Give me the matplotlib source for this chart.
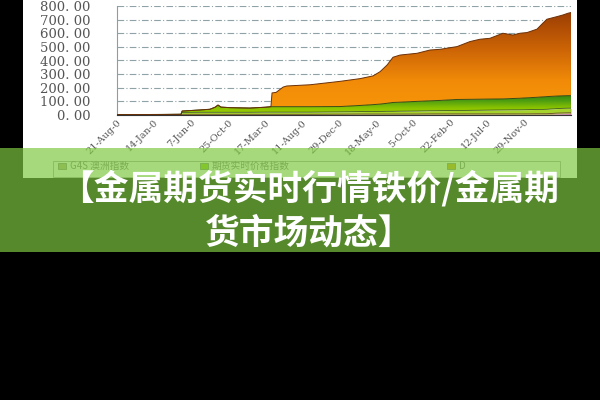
import numpy as np
import matplotlib
matplotlib.use('Agg')
import matplotlib.pyplot as plt
import matplotlib.transforms as mtransforms
from matplotlib.patches import Rectangle
from matplotlib.colors import LinearSegmentedColormap

plt.rcParams['font.family'] = ['Noto Sans CJK SC', 'DejaVu Sans']

# trading days from first tick, values of each stacked series
days = [0, 116, 173, 176, 224, 251, 265, 273, 281, 305,
        359, 400, 416, 419, 430, 449, 459, 522, 603, 657,
        692, 711, 730, 746, 765, 811, 846, 873, 919, 954,
        981, 1008, 1043, 1070, 1089, 1108, 1135, 1151, 1162, 1189,
        1205, 1219, 1227]
pink = [0, 1, 2, 2, 2, 2, 2, 2, 2, 2,
        2, 2, 2, 2, 2, 2, 2, 2, 2, 3,
        3, 3, 3, 3, 3, 3, 3, 3, 3, 3,
        3, 3, 3, 3, 3, 3, 3, 3, 3, 8,
        9, 10, 10]
khaki = [3] * 18 + [4] * 8 + [5] * 10 + [6] * 7
lgreen = [0, 0, 0, 14, 15, 15, 15, 15, 15, 15,
          15, 16, 16, 16, 16, 16, 16, 16, 17, 18,
          19, 19, 20, 20, 21, 22, 23, 24, 25, 26,
          27, 28, 29, 30, 30, 31, 32, 32, 33, 33,
          34, 34, 34]
green = [0, 0, 0, 10, 17, 22, 37, 53, 38, 34,
         31, 36, 40, 40, 40, 40, 40, 40, 39, 45,
         50, 54, 59, 65, 66, 71, 73, 75, 81, 81,
         81, 81, 81, 83, 85, 87, 89, 92, 93, 92,
         92, 92, 92]
orange = [0] * 13 + [101, 105, 144, 152, 161, 185, 197,
          211, 238, 281, 332, 346, 353, 373, 375, 388, 424,
          440, 446, 482, 466, 477, 479, 500, 541, 568, 583,
          593, 605, 610]

tick_days = [0, 100, 200, 300, 400, 500, 600, 700, 800, 900, 1000, 1100]
tick_labels = ['21-Aug-0', '14-Jan-0', '7-Jun-0', '25-Oct-0', '17-Mar-0', '11-Aug-0',
               '29-Dec-0', '18-May-0', '5-Oct-0', '22-Feb-0', '12-Jul-0', '29-Nov-0']
y_ticks = [0, 100, 200, 300, 400, 500, 600, 700, 800]
legend_labels = ['G4S 澳洲指数', '期货实时价格指数', 'D']
legend_colors = ['#b5a878', '#8fc800', '#d6a000']
title_lines = ['【金属期货实时行情铁价/金属期', '货市场动态】']

x = np.array(days)
s1 = np.array(pink)
s2 = s1 + np.array(khaki)
s3 = s2 + np.array(lgreen)
s4 = s3 + np.array(green)
s5 = s4 + np.array(orange)

fig = plt.figure(figsize=(6, 4), dpi=100, facecolor='black')

# white picture of the chart
fig.add_artist(Rectangle((23/600, 0.555), 554/600, 0.445, transform=fig.transFigure,
                         facecolor='white', edgecolor='none', zorder=0))

ax = fig.add_axes([117/600, 1 - 115/400, 454/600, 109/400])
ax.set_facecolor('white')

ax.fill_between(x, 0, s1, color='#d070c0', lw=0, zorder=2)
ax.fill_between(x, s1, s2, color='#b59a5a', lw=0, zorder=2)
ax.plot(x, s2, color='#6b4a2a', lw=0.6, zorder=3)
ax.fill_between(x, s2, s3, color='#a6d22c', lw=0, zorder=2)

grad = np.linspace(0, 1, 400).reshape(-1, 1)

# green layer with vertical gradient
g_poly = ax.fill_between(x, s3, s4, facecolor='none', lw=0)
g_cmap = LinearSegmentedColormap.from_list('g', [(0, '#9fd000'), (0.06, '#8cc400'),
                                                 (0.13, '#4c9c12'), (0.2, '#2e7a0c'), (1, '#2e7a0c')])
im = ax.imshow(grad, extent=[0, 1227, 0, 800], origin='lower', aspect='auto', cmap=g_cmap, zorder=2)
im.set_clip_path(g_poly.get_paths()[0], transform=ax.transData)
ax.plot(x, s3, color='#3c5a10', lw=0.6, zorder=3)

# orange layer with vertical gradient
o_poly = ax.fill_between(x, s4, s5, facecolor='none', lw=0)
o_cmap = LinearSegmentedColormap.from_list('o', [(0, '#f8960a'), (0.3, '#f28c08'),
                                                 (0.6, '#cc6406'), (0.95, '#9a3c04'), (1, '#9a3c04')])
im2 = ax.imshow(grad, extent=[0, 1227, 0, 800], origin='lower', aspect='auto', cmap=o_cmap, zorder=2)
im2.set_clip_path(o_poly.get_paths()[0], transform=ax.transData)
ax.plot(x, s4, color='#3a4a10', lw=0.7, zorder=3)
ax.plot(x, s5, color='#6a3008', lw=0.7, zorder=3)
ax.plot([x[-1], x[-1]], [0, s5[-1]], color='#4a2a08', lw=0.8, zorder=3)

ax.set_xlim(0, 1227)
ax.set_ylim(0, 800)
ax.set_yticks(y_ticks)
ax.set_yticklabels([f'{v:.2f}'.replace('.', '. ') for v in y_ticks],
                   family='DejaVu Serif', fontsize=9.5, color='#555555')
ax.set_xticks(tick_days)
ax.set_xticklabels(tick_labels, rotation=45, ha='right', va='top', rotation_mode='anchor',
                   family='DejaVu Serif', fontsize=7, color='#555555')
shift = mtransforms.ScaledTranslation(-7/100, 0, fig.dpi_scale_trans)
for lab in ax.get_xticklabels():
    lab.set_transform(lab.get_transform() + shift)
ax.tick_params(axis='y', length=0, pad=19)
ax.tick_params(axis='x', length=0, pad=2)
ax.yaxis.grid(True, linestyle=(0, (6, 2, 1, 2)), color='#8fa3a6', lw=0.8)
ax.set_axisbelow(True)
for side in ['top', 'right']:
    ax.spines[side].set_visible(False)
ax.spines['left'].set_color('#999999')
ax.spines['bottom'].set_color('#333333')

# legend under the chart (mostly covered by the banner)
fig.add_artist(Rectangle((53/600, 1 - 177/400), 507/600, 16/400, transform=fig.transFigure,
                         facecolor='none', edgecolor='#9a9a9a', lw=0.6, zorder=1))
for lx, lab, c in zip([58, 200, 447], legend_labels, legend_colors):
    fig.add_artist(Rectangle((lx/600, 1 - 169/400), 8/600, 6/400, transform=fig.transFigure,
                             facecolor=c, edgecolor='#666666', lw=0.5, zorder=1))
    fig.text((lx + 12)/600, 1 - 166/400, lab, ha='left', va='center', fontsize=7,
             color='#777777', zorder=1)

# green banner on top
fig.add_artist(Rectangle((0, 1 - 252/400), 1, 104/400, transform=fig.transFigure,
                         facecolor='#7dc840', alpha=0.69, edgecolor='none', zorder=10))
fig.text(0.515, 1 - 188/400, title_lines[0], ha='center', va='center', color='white',
         fontsize=25, fontweight='heavy', zorder=11)
fig.text(0.515, 1 - 233/400, title_lines[1], ha='center', va='center', color='white',
         fontsize=25, fontweight='heavy', zorder=11)

fig.savefig('out.png', dpi=100, facecolor='black')
